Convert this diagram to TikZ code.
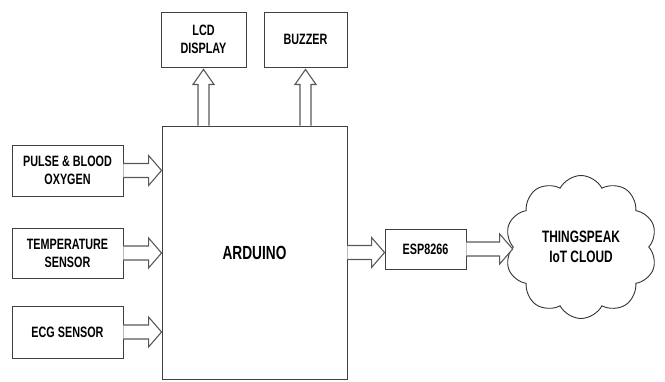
\documentclass[tikz,border=0pt]{standalone}
\usepackage{fontspec}
\setmainfont{Liberation Sans}[FakeStretch=0.72]
\usetikzlibrary{calc,shapes.symbols}
\begin{document}
\begin{tikzpicture}[x=1pt,y=-1pt,
  blk/.style={draw=black!75, line width=0.9pt, fill=white, align=center, inner sep=0pt,
     font=\bfseries\fontsize{15}{18}\selectfont},
  barrow/.style={draw=black!65, line width=1.1pt, fill=white, line join=miter},
  cloudnode/.style={draw=black!80, line width=0.9pt, shape=cloud, cloud puffs=10, cloud puff arc=125,
     aspect=1.05, align=center, inner sep=0pt, font=\bfseries\fontsize{16.5}{20}\selectfont}]
\useasboundingbox (0,0) rectangle (665,381);
\node[blk, minimum width=85pt, minimum height=55pt] (lcd) at (203.5,39.5) {LCD\\DISPLAY};
\node[blk, minimum width=83pt, minimum height=55pt] (buz) at (305.5,39.5) {BUZZER};
\node[blk, minimum width=185pt, minimum height=253pt, font=\bfseries\fontsize{19}{22}\selectfont] (ard) at (254.5,252.5) {ARDUINO};
\node[blk, minimum width=111pt, minimum height=51pt] (pulse) at (67.5,170.5) {PULSE \& BLOOD\\OXYGEN};
\node[blk, minimum width=111pt, minimum height=50pt] (temp) at (67.5,253) {TEMPERATURE\\SENSOR};
\node[blk, minimum width=111pt, minimum height=52pt] (ecg) at (67.5,332) {ECG SENSOR};
\node[blk, minimum width=81pt, minimum height=40pt] (esp) at (425.5,249) {ESP8266};
\node[cloudnode, minimum width=152pt, minimum height=143pt] (cloud) at (581,247) {THINGSPEAK\\IoT CLOUD};
% horizontal block arrows
\foreach \a/\b in {pulse/ard, temp/ard, ecg/ard, ard/esp, esp/cloud}{
  \draw[barrow] let \p1=(\a.east), \p2=(\b.west) in
    (\x1,\y1+7pt) -- (\x2-13pt,\y1+7pt) -- (\x2-13pt,\y1+15pt) -- (\x2,\y1)
    -- (\x2-13pt,\y1-15pt) -- (\x2-13pt,\y1-7pt) -- (\x1,\y1-7pt);
}
% vertical block arrows
\foreach \b in {lcd, buz}{
  \draw[barrow] let \p1=(ard.north), \p2=(\b.south) in
    (\x2-5.5pt,\y1) -- (\x2-5.5pt,\y2-17pt) -- (\x2-10.5pt,\y2-17pt) -- (\x2,\y2-2pt)
    -- (\x2+10.5pt,\y2-17pt) -- (\x2+5.5pt,\y2-17pt) -- (\x2+5.5pt,\y1);
}
\end{tikzpicture}
\end{document}
